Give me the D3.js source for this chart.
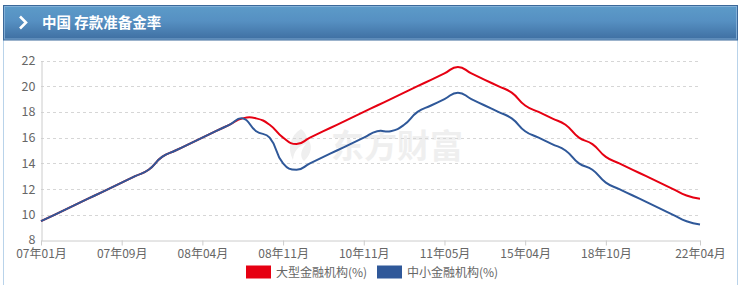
<!DOCTYPE html>
<html><head><meta charset="utf-8">
<script src="https://cdn.jsdelivr.net/npm/d3@7"></script>
<style>
html,body{margin:0;padding:0;background:#fff;}
svg{display:block;}
</style></head>
<body>
<svg id="chart" width="740" height="285"></svg>
<script>
// ---------- data ----------
const title = "中国 存款准备金率";
const categories = [
 "07年01月","07年02月","07年04月","07年04月","07年05月","07年07月","07年09月","07年10月","07年11月","07年12月",
 "08年01月","08年03月","08年04月","08年05月","08年06月","08年06月","08年09月","08年10月","08年11月","08年12月",
 "10年01月","10年02月","10年05月","10年11月","10年11月","10年12月","11年01月","11年02月","11年03月","11年04月",
 "11年05月","11年06月","11年11月","12年02月","12年05月","15年02月","15年04月","15年08月","15年10月","16年02月",
 "18年04月","18年06月","18年10月","19年01月","19年01月","19年09月","20年01月","21年07月","21年12月","22年04月"
];
const largeSeries = [
 9.5,10,10.5,11,11.5,12,12.5,13,13.5,14.5,
 15,15.5,16,16.5,17,17.5,17.5,17,16,15.5,
 16,16.5,17,17.5,18,18.5,19,19.5,20,20.5,
 21,21.5,21,20.5,20,19.5,18.5,18,17.5,17,
 16,15.5,14.5,14,13.5,13,12.5,12,11.5,11.25
];
const smallSeries = [
 9.5,10,10.5,11,11.5,12,12.5,13,13.5,14.5,
 15,15.5,16,16.5,17,17.5,16.5,16,14,13.5,
 14,14.5,15,15.5,16,16.5,16.5,17,18,18.5,
 19,19.5,19,18.5,18,17.5,16.5,16,15.5,15,
 14,13.5,12.5,12,11.5,11,10.5,10,9.5,9.25
];
const seriesNames = ["大型金融机构(%)","中小金融机构(%)"];
const yTicks = [8,10,12,14,16,18,20,22];
const xTickIndex = [0,6,12,18,24,30,36,42,49];

// ---------- layout ----------
const svg = d3.select("#chart");
const W = 740, H = 285;
const plot = {left:41, right:700, top:60.5, bottom:240.5};
const colors = ["#e60012","#2f5899"];
const font = "'Noto Sans CJK SC','Microsoft YaHei',sans-serif";

// frame + header
const defs = svg.append("defs");
const g = defs.append("linearGradient").attr("id","hdr").attr("x1",0).attr("y1",0).attr("x2",0).attr("y2",1);
g.append("stop").attr("offset","0%").attr("stop-color","#5c9bc9");
g.append("stop").attr("offset","45%").attr("stop-color","#5690c2");
g.append("stop").attr("offset","100%").attr("stop-color","#3e6ea1");

svg.append("line").attr("x1",3.5).attr("x2",3.5).attr("y1",40).attr("y2",H).attr("stroke","#b9d3ea");
svg.append("line").attr("x1",737.5).attr("x2",737.5).attr("y1",40).attr("y2",H).attr("stroke","#b9d3ea");
svg.append("rect").attr("x",3.5).attr("y",5.5).attr("width",734).attr("height",34.5)
  .attr("fill","url(#hdr)").attr("stroke","#3b6899");
svg.append("rect").attr("x",4.5).attr("y",6.5).attr("width",732).attr("height",32.5)
  .attr("fill","none").attr("stroke","#8db7dc").attr("stroke-opacity",0.8);
svg.append("path").attr("d","M20,16.5 L26,22.5 L20,28.5").attr("fill","none")
  .attr("stroke","#fff").attr("stroke-width",2.6);
svg.append("text").attr("x",42).attr("y",28).attr("fill","#fff")
  .attr("font-family",font).attr("font-weight","bold").attr("font-size",14.5).text(title);

// scales
const x = d3.scalePoint().domain(d3.range(categories.length)).range([plot.left, plot.right]);
const y = d3.scaleLinear().domain([8,22]).range([plot.bottom, plot.top]);

// watermark
const wm = svg.append("g").attr("fill","#efefef");
wm.append("path").attr("d","M301,129 C290,136 287,148 293,160 C294,150 299,146 306,144 C300,151 300,157 304,161 C312,154 313,144 307,138 C306,134 304,131 301,129 Z");
wm.append("text").attr("x",331).attr("y",158).attr("font-family",font).attr("font-weight","bold")
  .attr("font-size",33).text("东方财富");

// grid
svg.append("g").selectAll("line").data(yTicks.filter(d=>d>8)).join("line")
  .attr("x1",plot.left).attr("x2",plot.right)
  .attr("y1",d=>Math.round(y(d))+0.5).attr("y2",d=>Math.round(y(d))+0.5)
  .attr("stroke","#d6d6d6").attr("stroke-dasharray","3,3");

// y axis
const yAxis = svg.append("g").attr("transform",`translate(${plot.left+0.5},0)`)
  .call(d3.axisLeft(y).tickValues(yTicks).tickSize(0).tickPadding(6));
yAxis.select(".domain").attr("stroke","#ccc");
yAxis.selectAll("text").attr("font-family",font).attr("font-size",12.5).attr("fill","#666");
yAxis.selectAll(".tick").filter(d=>d===8).select("text").attr("dy","0.2em");

// x axis
const xAxis = svg.append("g").attr("transform",`translate(0,${plot.bottom})`)
  .call(d3.axisBottom(x).tickValues(xTickIndex).tickFormat(i=>categories[i]).tickSize(5).tickSizeOuter(0).tickPadding(3));
xAxis.select(".domain").attr("stroke","#ccc");
xAxis.selectAll(".tick line").attr("stroke","#ccc");
xAxis.selectAll("text").attr("font-family",font).attr("font-size",12).attr("fill","#666").attr("dy","0.75em");

// ECharts-like smoothing curve
function SmoothCurve(ctx){ this._context = ctx; }
SmoothCurve.prototype = {
  areaStart(){}, areaEnd(){},
  lineStart(){ this._p = []; },
  point(a,b){ this._p.push([+a,+b]); },
  lineEnd(){
    const p = this._p, c = this._context, s = 0.5, n = p.length;
    if(!n) return;
    c.moveTo(p[0][0],p[0][1]);
    const cpA = [], cpB = [];
    for(let i=0;i<n;i++){
      const cur = p[i];
      if(i===0 || i===n-1){ cpA[i]=cur.slice(); cpB[i]=cur.slice(); continue; }
      const pr = p[i-1], nx = p[i+1];
      const vx = (nx[0]-pr[0])*s, vy = (nx[1]-pr[1])*s;
      const d0 = Math.hypot(cur[0]-pr[0],cur[1]-pr[1]);
      const d1 = Math.hypot(nx[0]-cur[0],nx[1]-cur[1]);
      const r = (d0+d1)>0 ? d1/(d0+d1) : 0.5;
      cpA[i] = [cur[0]-vx*(1-r), cur[1]-vy*(1-r)];
      cpB[i] = [cur[0]+vx*r, cur[1]+vy*r];
    }
    for(let i=1;i<n;i++) c.bezierCurveTo(cpB[i-1][0],cpB[i-1][1],cpA[i][0],cpA[i][1],p[i][0],p[i][1]);
  }
};
const smooth = ctx => new SmoothCurve(ctx);

const line = d3.line().x((d,i)=>x(i)).y(d=>y(d)).curve(smooth);
[largeSeries, smallSeries].forEach((s,k)=>{
  svg.append("path").datum(s).attr("d",line).attr("fill","none")
    .attr("stroke",colors[k]).attr("stroke-width",2).attr("stroke-linejoin","round");
});

// legend
const legX = [246, 377];
seriesNames.forEach((name,k)=>{
  svg.append("rect").attr("x",legX[k]).attr("y",265.5).attr("width",25).attr("height",13).attr("fill",colors[k]);
  svg.append("text").attr("x",legX[k]+30).attr("y",276.5).attr("font-family",font).attr("font-size",12)
    .attr("fill","#666").text(name);
});
</script>
</body></html>
